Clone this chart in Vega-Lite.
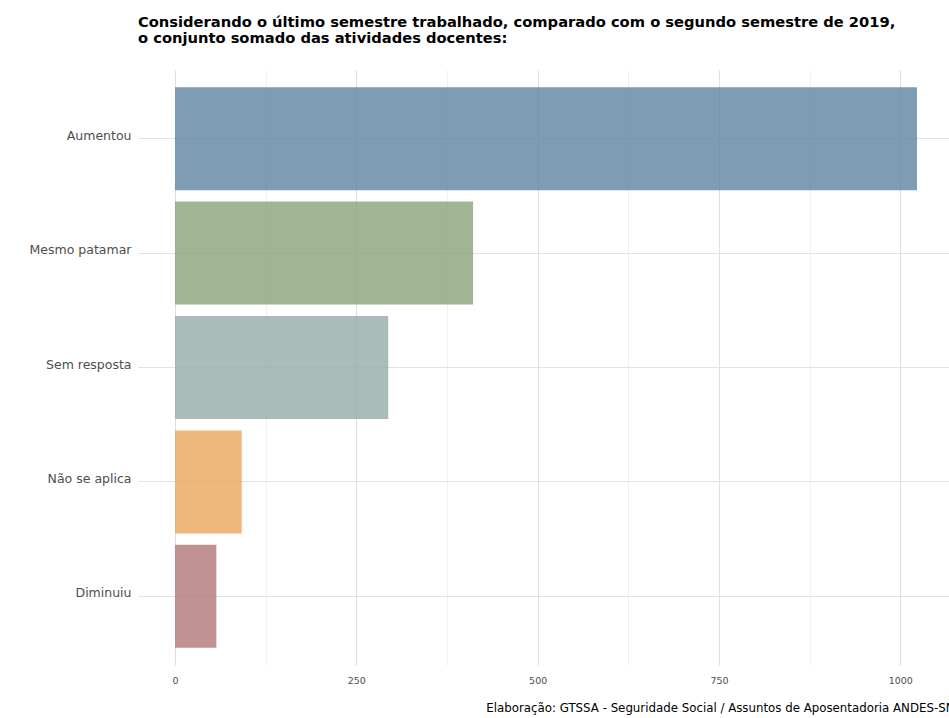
{
  "$schema": "https://vega.github.io/schema/vega-lite/v6.json",
  "width": 816,
  "height": 595,
  "autosize": {"type": "none"},
  "padding": {"left": 138, "top": 70, "right": 0, "bottom": 53},
  "background": "white",
  "config": {
    "font": "DejaVu Sans",
    "view": {"stroke": null}
  },
  "title": {
    "text": ["Considerando o último semestre trabalhado, comparado com o segundo semestre de 2019,", "o conjunto somado das atividades docentes:"],
    "anchor": "start",
    "frame": "group",
    "font": "DejaVu Sans",
    "fontWeight": "bold",
    "fontSize": 14.7,
    "lineHeight": 16.5,
    "color": "black",
    "offset": 24
  },
  "data": {
    "values": [
      {"resposta": "Aumentou", "n": 1023},
      {"resposta": "Mesmo patamar", "n": 411},
      {"resposta": "Sem resposta", "n": 294},
      {"resposta": "Não se aplica", "n": 92},
      {"resposta": "Diminuiu", "n": 57}
    ]
  },
  "mark": {"type": "bar", "opacity": 0.8},
  "encoding": {
    "y": {
      "field": "resposta",
      "type": "nominal",
      "sort": null,
      "scale": {"paddingInner": 0.1, "paddingOuter": 0.15},
      "axis": {
        "title": null,
        "domain": false,
        "ticks": false,
        "grid": true,
        "gridColor": "#e3e3e3",
        "gridWidth": 1,
        "labelFont": "DejaVu Sans",
        "labelFontSize": 12.5,
        "labelColor": "#4d4d4d",
        "labelPadding": 7,
        "labelOffset": -3
      }
    },
    "x": {
      "field": "n",
      "type": "quantitative",
      "scale": {"domain": [-51, 1074], "nice": false, "zero": false},
      "axis": {
        "title": "Elaboração: GTSSA - Seguridade Social / Assuntos de Aposentadoria ANDES-SN",
        "titleFont": "DejaVu Sans",
        "titleFontSize": 11.8,
        "titleFontWeight": "normal",
        "titleColor": "black",
        "titleAnchor": "end",
        "titlePadding": 18,
        "values": [0, 125, 250, 375, 500, 625, 750, 875, 1000],
        "labelExpr": "datum.value % 250 === 0 ? datum.label : ''",
        "format": "d",
        "domain": false,
        "ticks": false,
        "grid": true,
        "gridColor": {"condition": {"test": "datum.value % 250 === 0", "value": "#e0e0e0"}, "value": "#efefef"},
        "gridWidth": 1,
        "labelFont": "DejaVu Sans",
        "labelFontSize": 9.5,
        "labelColor": "#4d4d4d",
        "labelPadding": 10
      }
    },
    "color": {
      "field": "resposta",
      "type": "nominal",
      "legend": null,
      "scale": {
        "domain": ["Aumentou", "Mesmo patamar", "Sem resposta", "Não se aplica", "Diminuiu"],
        "range": ["#5f849f", "#88a278", "#93aba7", "#eaa659", "#b07779"]
      }
    }
  }
}
